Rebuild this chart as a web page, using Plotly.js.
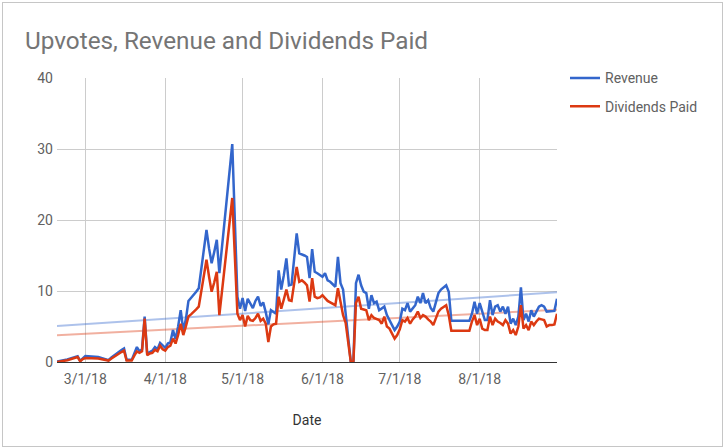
<!DOCTYPE html>
<html>
<head>
<meta charset="utf-8">
<script src="https://cdn.plot.ly/plotly-3.0.1.min.js"></script>
<style>
  html, body { margin: 0; padding: 0; background: #ffffff; }
  #wrap { position: relative; width: 724px; height: 448px; }
  #chart { position: absolute; left: 0; top: 0; width: 724px; height: 448px; }
  #frame { position: absolute; left: 2px; top: 2px; width: 719px; height: 443px;
           border: 1px solid #c6c6c6; pointer-events: none; }
</style>
</head>
<body>
<div id="wrap"><div id="chart"></div><div id="frame"></div></div>
<script>
const dates = [
"2018-02-18","2018-02-21","2018-02-22","2018-02-26","2018-02-27","2018-02-28","2018-03-01","2018-03-06","2018-03-08","2018-03-09",
"2018-03-10","2018-03-11","2018-03-12","2018-03-13","2018-03-14","2018-03-15","2018-03-16","2018-03-17","2018-03-18","2018-03-19",
"2018-03-20","2018-03-21","2018-03-22","2018-03-23","2018-03-24","2018-03-25","2018-03-26","2018-03-27","2018-03-28","2018-03-29",
"2018-03-30","2018-03-31","2018-04-01","2018-04-02","2018-04-03","2018-04-04","2018-04-05","2018-04-06","2018-04-07","2018-04-08",
"2018-04-09","2018-04-10","2018-04-11","2018-04-12","2018-04-13","2018-04-14","2018-04-15","2018-04-16","2018-04-17","2018-04-18",
"2018-04-19","2018-04-20","2018-04-21","2018-04-22","2018-04-27","2018-04-29","2018-04-30","2018-05-01","2018-05-02","2018-05-03",
"2018-05-04","2018-05-05","2018-05-06","2018-05-07","2018-05-08","2018-05-09","2018-05-10","2018-05-11","2018-05-12","2018-05-13",
"2018-05-14","2018-05-15","2018-05-16","2018-05-17","2018-05-18","2018-05-19","2018-05-20","2018-05-21","2018-05-22","2018-05-23",
"2018-05-24","2018-05-25","2018-05-26","2018-05-27","2018-05-28","2018-05-29","2018-05-30","2018-05-31","2018-06-01","2018-06-02",
"2018-06-03","2018-06-04","2018-06-05","2018-06-06","2018-06-07","2018-06-08","2018-06-09","2018-06-10","2018-06-11","2018-06-12",
"2018-06-13","2018-06-14","2018-06-15","2018-06-16","2018-06-17","2018-06-18","2018-06-19","2018-06-20","2018-06-21","2018-06-22",
"2018-06-23","2018-06-24","2018-06-25","2018-06-26","2018-06-27","2018-06-28","2018-06-29","2018-06-30","2018-07-01","2018-07-02",
"2018-07-03","2018-07-04","2018-07-05","2018-07-06","2018-07-07","2018-07-08","2018-07-09","2018-07-10","2018-07-11","2018-07-12",
"2018-07-13","2018-07-14","2018-07-15","2018-07-16","2018-07-17","2018-07-18","2018-07-19","2018-07-20","2018-07-21","2018-07-28",
"2018-07-29","2018-07-30","2018-07-31","2018-08-01","2018-08-02","2018-08-03","2018-08-04","2018-08-05","2018-08-06","2018-08-07",
"2018-08-08","2018-08-09","2018-08-10","2018-08-11","2018-08-12","2018-08-13","2018-08-14","2018-08-15","2018-08-16","2018-08-17",
"2018-08-18","2018-08-19","2018-08-20","2018-08-21","2018-08-22","2018-08-23","2018-08-24","2018-08-25","2018-08-26","2018-08-27",
"2018-08-28","2018-08-29","2018-08-30","2018-08-31"
];

const revenue = [
0.05,0.25,0.35,0.8,0.15,0.5,0.85,0.7,0.5,0.4,
0.25,0.6,0.9,1.2,1.5,1.7,1.9,0.3,0.3,0.3,
1.2,2.1,1.5,1.8,6.4,1.2,1.4,1.6,2.1,1.8,
2.7,2.3,2.0,2.6,2.8,4.5,3.2,5.0,7.3,4.4,
6.0,8.6,9.0,9.4,9.9,10.4,13.0,16.0,18.6,16.0,
13.9,15.5,17.2,12.5,30.7,9.2,7.5,9.0,7.2,8.9,
8.3,7.6,8.6,9.2,7.9,8.4,7.0,5.3,7.3,7.0,
6.8,12.9,10.2,12.2,14.6,10.8,10.9,14.5,18.1,15.3,
15.2,15.0,14.8,11.8,15.9,12.7,12.5,12.3,12.0,12.5,
11.5,11.3,11.0,10.6,14.8,11.1,10.2,7.0,3.2,0,
0,11.1,12.3,10.8,9.9,9.7,7.5,9.4,8.3,8.5,
7.3,7.5,7.8,6.6,6.0,5.2,4.5,5.0,5.7,7.5,
7.3,8.3,7.1,7.5,8.0,9.2,8.3,9.7,8.3,8.7,
7.6,7.1,8.5,9.7,10.2,10.5,10.8,9.9,5.8,5.8,
6.8,8.5,6.8,8.3,7.1,5.9,5.9,8.7,6.6,7.8,
8.0,7.1,7.8,6.8,7.8,5.4,6.1,5.2,6.4,10.5,
5.9,6.8,5.7,7.3,6.4,7.1,7.8,8.0,7.8,7.1,
7.1,7.1,7.2,8.9
];

const dividends = [
0.0,0.15,0.25,0.7,0.1,0.4,0.55,0.5,0.35,0.3,
0.2,0.45,0.7,1.0,1.2,1.4,1.6,0.2,0.2,0.2,
0.9,1.5,1.3,1.5,6.1,0.95,1.2,1.3,1.7,1.5,
2.3,1.8,1.6,2.1,2.3,3.3,2.6,3.8,5.4,3.8,
5.0,6.4,6.7,7.0,7.4,7.8,10.0,12.5,14.4,12.0,
9.9,11.2,12.7,6.6,23.1,6.8,5.9,6.6,5.0,6.5,
5.9,5.8,6.2,6.8,5.8,6.1,5.4,2.8,5.0,5.3,
5.4,9.2,7.5,8.8,10.2,8.7,8.6,11.0,13.4,11.3,
11.5,11.2,10.8,8.5,11.8,9.2,9.0,9.1,9.4,9.0,
8.6,8.4,8.2,8.0,10.4,8.7,6.6,5.5,2.9,0,
0,8.3,9.2,7.5,7.4,7.3,5.9,6.6,6.2,6.0,
5.9,5.4,6.4,5.0,4.7,4.0,3.3,3.8,4.6,5.9,
5.7,6.2,5.4,6.0,6.4,7.1,6.2,6.6,6.4,6.0,
5.7,5.2,6.2,7.1,7.5,7.8,8.0,6.6,4.4,4.4,
5.7,6.6,5.2,6.1,4.7,4.5,4.5,6.4,5.2,6.1,
5.7,5.5,5.2,5.9,5.4,4.0,4.5,3.8,5.0,8.0,
4.7,5.2,4.5,5.7,5.2,5.7,6.1,6.0,5.9,5.0,
5.2,5.2,5.3,6.8
];

const seriesNames = ["Revenue", "Dividends Paid"];
const tickDates = ["2018-03-01","2018-04-01","2018-05-01","2018-06-01","2018-07-01","2018-08-01"];
const tickLabels = ["3/1/18","4/1/18","5/1/18","6/1/18","7/1/18","8/1/18"];

// linear least-squares trend line computed from the data
function trend(xs, ys) {
  const t = xs.map(d => Date.parse(d + "T00:00:00Z"));
  const n = t.length;
  let sx = 0, sy = 0, sxx = 0, sxy = 0;
  for (let i = 0; i < n; i++) { sx += t[i]; sy += ys[i]; }
  const mx = sx / n, my = sy / n;
  for (let i = 0; i < n; i++) { sxx += (t[i]-mx)*(t[i]-mx); sxy += (t[i]-mx)*(ys[i]-my); }
  const b = sxy / sxx, a = my - b * mx;
  return { x: [xs[0], xs[n-1]], y: [a + b*t[0], a + b*t[n-1]] };
}
const trRev = trend(dates, revenue);
const trDiv = trend(dates, dividends);

const BLUE = "#3366cc", RED = "#dc3912";
const font = "Roboto, Arial, sans-serif";

const data = [
  { x: trRev.x, y: trRev.y, type: "scatter", mode: "lines", showlegend: false, hoverinfo: "skip",
    line: { color: "rgba(51,102,204,0.4)", width: 2 } },
  { x: trDiv.x, y: trDiv.y, type: "scatter", mode: "lines", showlegend: false, hoverinfo: "skip",
    line: { color: "rgba(220,57,18,0.4)", width: 2 } },
  { x: dates, y: revenue, name: seriesNames[0], type: "scatter", mode: "lines", legendgroup: "a",
    line: { color: BLUE, width: 2.5 } },
  { x: dates, y: dividends, name: seriesNames[1], type: "scatter", mode: "lines", legendgroup: "b",
    line: { color: RED, width: 2.5 } }
];

const layout = {
  width: 724, height: 448,
  margin: { l: 57, r: 167, t: 78, b: 86 },
  paper_bgcolor: "#ffffff", plot_bgcolor: "#ffffff",
  font: { family: font, color: "#616161", size: 14 },
  title: { text: "Upvotes, Revenue and Dividends Paid", x: 25/724, xref: "container", xanchor: "left",
           y: 1 - 40/448, yref: "container", yanchor: "middle",
           font: { family: font, size: 24.3, color: "#757575" } },
  xaxis: {
    type: "date", range: ["2018-02-18", "2018-08-31"],
    tickvals: tickDates, ticktext: tickLabels,
    showgrid: true, gridcolor: "#cccccc", gridwidth: 1,
    zeroline: false, showline: true, linecolor: "#333333", linewidth: 1,
    ticks: "", ticklabelstandoff: 4,
    tickfont: { family: font, size: 14, color: "#616161" },
    title: { text: "Date", standoff: 29, font: { family: font, size: 14, color: "#333333" } },
    automargin: false, fixedrange: true
  },
  yaxis: {
    range: [0, 40], tickvals: [0, 10, 20, 30, 40],
    showgrid: true, gridcolor: "#cccccc", gridwidth: 1,
    zeroline: false, showline: false, ticks: "", ticklabelstandoff: 3,
    tickfont: { family: font, size: 14, color: "#616161" },
    automargin: false, fixedrange: true
  },
  showlegend: true,
  legend: { x: 1.016, xanchor: "left", y: 1.055, yanchor: "top", traceorder: "grouped",
            tracegroupgap: 7, bgcolor: "rgba(0,0,0,0)",
            font: { family: font, size: 14, color: "#616161" } },
  hovermode: false
};

Plotly.newPlot("chart", data, layout, { staticPlot: true, displayModeBar: false });
</script>
</body>
</html>
